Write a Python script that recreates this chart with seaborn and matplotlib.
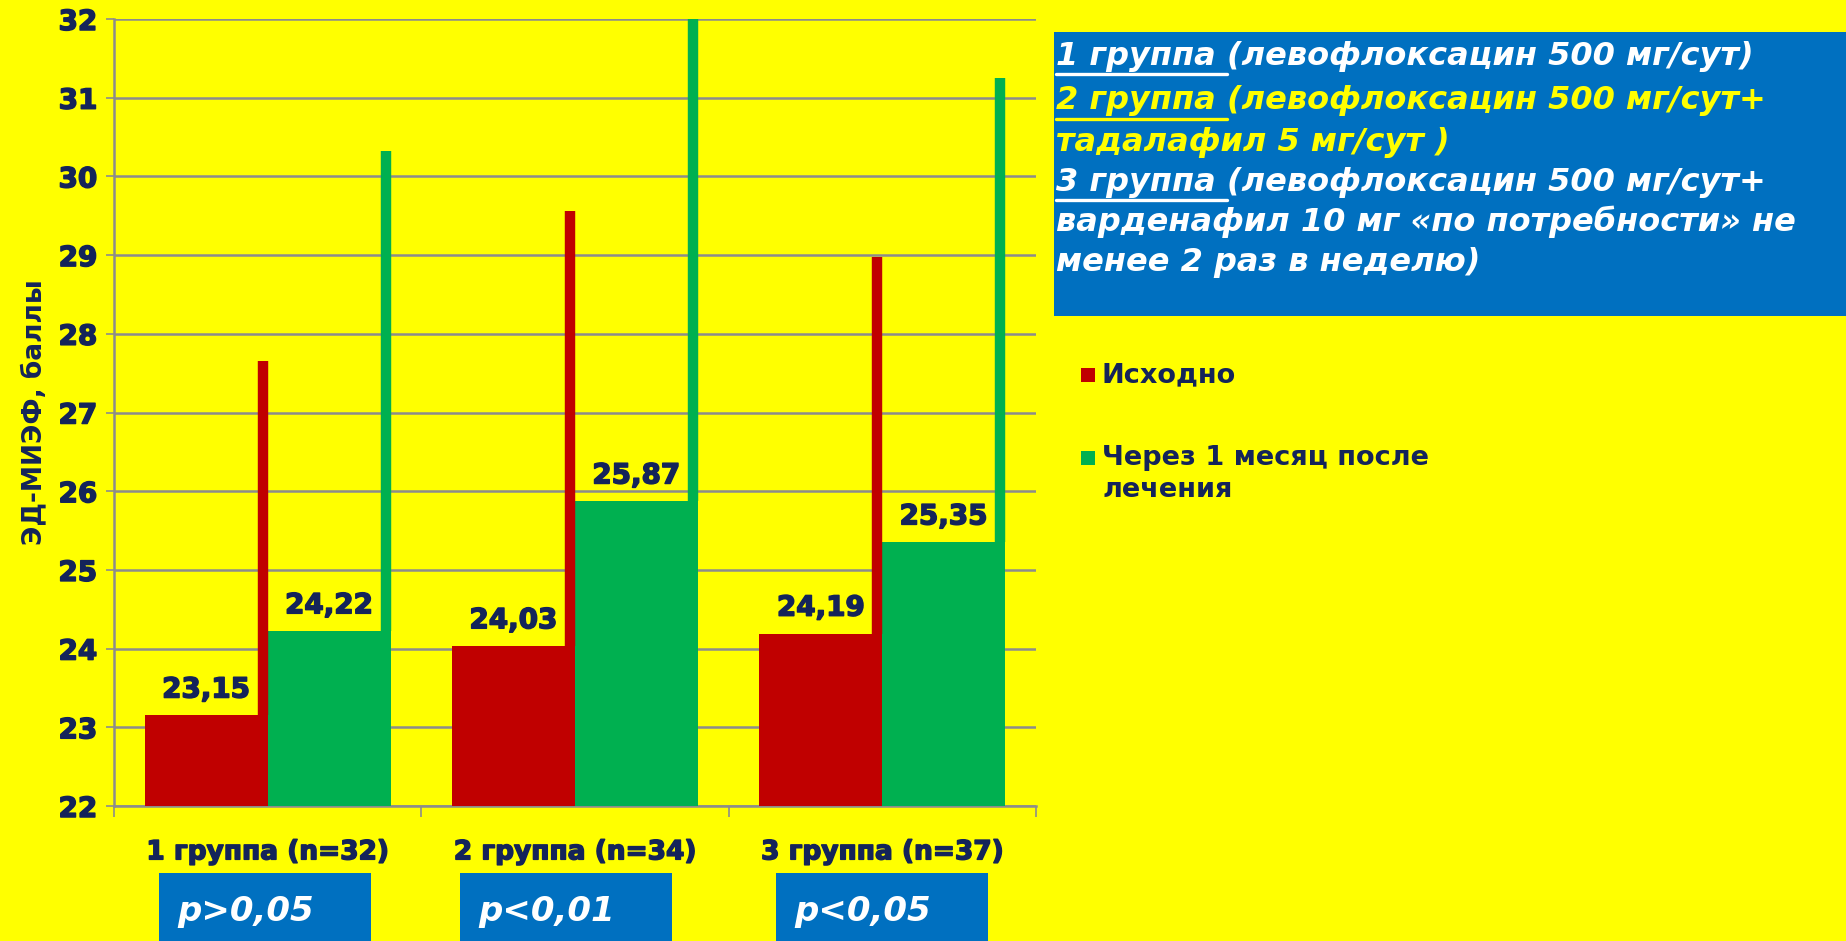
import matplotlib
matplotlib.use("Agg")
import matplotlib.pyplot as plt
import matplotlib.patheffects as pe
import seaborn as sns
import pandas as pd
from matplotlib.patches import Rectangle
from matplotlib.lines import Line2D

# Data
groups = ["1 группа (n=32)", "2 группа (n=34)", "3 группа (n=37)"]
series = ["Исходно", "Через 1 месяц после\nлечения"]
baseline = [23.15, 24.03, 24.19]
after_1m = [24.22, 25.87, 25.35]
baseline_upper = [27.65, 29.56, 28.98]
after_1m_upper = [30.32, 32.40, 31.25]
p_values = ["p>0,05", "p<0,01", "p<0,05"]
yticks = list(range(22, 33))

YELLOW = "#FFFF00"
RED = "#C00000"
GREEN = "#00B050"
BLUE = "#0070C0"
NAVY = "#14245A"
GRID = "#8C8C8C"

df = pd.DataFrame({
    "group": groups * 2,
    "series": [series[0]] * 3 + [series[1]] * 3,
    "value": baseline + after_1m,
})

sns.set_theme(style="white")
plt.rcParams["font.family"] = ["DejaVu Sans"]

heavy = [pe.withStroke(linewidth=1.1, foreground=NAVY)]

W, H = 1846, 941
fig = plt.figure(figsize=(W / 100, H / 100), dpi=100, facecolor=YELLOW)
ax = fig.add_axes([114 / W, 1 - 806 / H, (1036 - 114) / W, (806 - 19) / H])
ax.set_facecolor(YELLOW)

sns.barplot(data=df, x="group", y="value", hue="series", hue_order=series,
            palette=[RED, GREEN], width=0.8, saturation=1, legend=False,
            edgecolor="none", ax=ax, zorder=3)

ax.set_ylim(22, 32)
ax.set_xlim(-0.5, 2.5)
ax.set_yticks(yticks)
ax.set_yticklabels([str(t) for t in yticks], fontsize=20, fontweight="bold", color=NAVY)
ax.tick_params(axis="y", length=6, width=1.2, color=GRID, pad=6, direction="out", left=True)
ax.set_xticks([0, 1, 2])
ax.set_xticklabels(groups, fontsize=19, fontweight="bold", color=NAVY)
ax.tick_params(axis="x", length=0, pad=24)
for lbl in ax.get_yticklabels() + ax.get_xticklabels():
    lbl.set_path_effects(heavy)
# category boundary ticks
ax.set_xticks([-0.5, 0.5, 1.5, 2.5], minor=True)
ax.tick_params(axis="x", which="minor", length=8, width=1.2, color=GRID, direction="out", bottom=True)

ax.yaxis.grid(True, color=GRID, linewidth=1.8, zorder=0)
ax.set_axisbelow(True)
for side in ["top", "right"]:
    ax.spines[side].set_visible(False)
for side in ["left", "bottom"]:
    ax.spines[side].set_color(GRID)
    ax.spines[side].set_linewidth(1.8)
ax.set_xlabel("")
ax.set_ylabel("ЭД-МИЭФ, баллы", fontsize=19, fontweight="bold", color=NAVY, labelpad=8)

# Upper spread markers: thin bars near each bar's right edge
bar_w = 0.4
edge_off = 0.016
for i in range(3):
    xr = i - edge_off               # right edge of red bar
    xg = i + bar_w - edge_off       # right edge of green bar
    ax.vlines(xr, baseline[i], baseline_upper[i], color=RED, linewidth=7.5, zorder=4)
    ax.vlines(xg, after_1m[i], after_1m_upper[i], color=GREEN, linewidth=7.5, zorder=4)

# Value labels
for i in range(3):
    ax.text(i - bar_w / 2, baseline[i] + 0.33, f"{baseline[i]:.2f}".replace(".", ","),
            ha="center", va="center", fontsize=20, fontweight="bold", color=NAVY, zorder=5,
            path_effects=heavy)
    ax.text(i + bar_w / 2, after_1m[i] + 0.33, f"{after_1m[i]:.2f}".replace(".", ","),
            ha="center", va="center", fontsize=20, fontweight="bold", color=NAVY, zorder=5,
            path_effects=heavy)

# Description panel
fig.patches.append(Rectangle((1054 / W, 1 - 316 / H), (W - 1054) / W, (316 - 32) / H,
                             transform=fig.transFigure, facecolor=BLUE, edgecolor="none"))
renderer = fig.canvas.get_renderer()
desc_lines = [
    ("1 группа ", "(левофлоксацин 500 мг/сут)", "white"),
    ("2 группа ", "(левофлоксацин 500 мг/сут+", YELLOW),
    ("", "тадалафил 5 мг/сут )", YELLOW),
    ("3 группа ", "(левофлоксацин 500 мг/сут+", "white"),
    ("", "варденафил 10 мг «по потребности» не", "white"),
    ("", "менее 2 раз в неделю)", "white"),
]
line_y = [56, 101, 142, 182, 222, 262]
x0 = 1056
font_kw = dict(fontsize=23, fontweight="bold", fontstyle="italic", va="center", ha="left")
for (under, rest, col), yy in zip(desc_lines, line_y):
    xx = x0
    if under:
        t = fig.text(xx / W, 1 - yy / H, under, color=col, **font_kw)
        bb = t.get_window_extent(renderer)
        xe = bb.x1
        fig.add_artist(Line2D([xx / W, xe / W], [1 - (yy + 18) / H] * 2,
                              transform=fig.transFigure, color=col, linewidth=2.4))
        xx = xe
    fig.text(xx / W, 1 - yy / H, rest, color=col, **font_kw)

# Legend
for (lbl, col, yy) in [(series[0], RED, 375), (series[1], GREEN, 458)]:
    fig.patches.append(Rectangle((1081 / W, 1 - (yy + 7) / H), 14 / W, 14 / H,
                                 transform=fig.transFigure, facecolor=col, edgecolor="none"))
    fig.text(1102 / W, 1 - (yy - 13) / H, lbl, fontsize=19.5, fontweight="bold", color=NAVY,
             va="top", ha="left", linespacing=1.3)

# p-value boxes
box_x = [159, 460, 776]
for bx, ptxt in zip(box_x, p_values):
    fig.patches.append(Rectangle((bx / W, 0), 212 / W, (H - 873) / H,
                                 transform=fig.transFigure, facecolor=BLUE, edgecolor="none"))
    fig.text((bx + 18) / W, 1 - 912 / H, ptxt, fontsize=24.5, fontweight="bold",
             fontstyle="italic", color="white", va="center", ha="left")

fig.savefig("out.png", dpi=100, facecolor=YELLOW)
